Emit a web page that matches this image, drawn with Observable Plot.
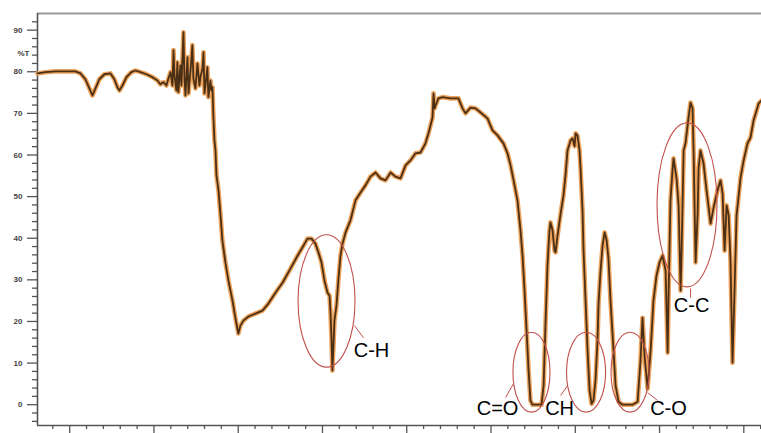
<!DOCTYPE html>
<html>
<head>
<meta charset="utf-8">
<script src="https://cdn.jsdelivr.net/npm/d3@7"></script>
<script src="https://cdn.jsdelivr.net/npm/@observablehq/plot@0.6"></script>
<style>
  html, body { margin: 0; padding: 0; background: #fff; overflow: hidden; }
</style>
</head>
<body>
<div id="chart"></div>
<script>
// Wavenumber (cm-1) and transmittance (%T)
const wavenumber = [
  4691,4644,4585,4525,4466,4436,4407,4383,4365,4347,4324,4294,4258,4235,4217,4205,4187,4163,4134,4110,
  4080,4045,4009,3979,3962,3944,3926,
  3914,3902,3890,3884,3878,3867,3861,3855,3843,3837,3825,3819,3813,3801,3795,3783,3772,3766,3754,3742,
  3730,3724,3712,3706,3700,3688,3683,3677,3665,3659,3653,3647,3641,3635,
  3629,3617,3605,3594,3576,3558,3534,3516,3505,3499,3487,3469,3439,3398,3356,3321,3279,3237,3190,3148,
  3113,3089,3065,3042,3024,3006,2988,2970,2958,2953,2947,2941,2935,2929,2917,2905,2893,2881,2863,2834,
  2804,2774,2745,2715,2685,2656,2626,2596,2567,2537,2507,2478,2448,2418,2389,2371,2359,2347,2341,2335,
  2329,2312,2288,2240,2193,2169,2151,2122,2092,2062,2021,1991,1961,1926,1902,1884,1866,1843,1825,1813,
  1801,1789,1777,1766,1754,1700,1688,1676,1665,1653,1647,1635,1623,1617,1605,1587,1570,1558,1546,1528,
  1516,1504,1498,1487,1475,1469,1457,1451,1439,1427,1415,1403,1392,1380,1368,1362,1350,1338,1326,1314,
  1303,1291,1273,1261,1243,1220,1160,1130,1113,1101,1089,1071,1053,1036,1018,1000,982,964,952,947,
  935,923,917,899,887,875,869,857,846,828,816,804,798,792,786,774,768,757,739,721,
  697,679,656,638,626,614,602,590,579,567,555,543,519,501,478,460,442,424,412,394
];
const transmittance = [
  79.6,79.9,80.1,80.1,80.1,79.6,78.2,76.0,74.3,76.0,78.2,79.4,79.6,78.2,76.3,75.5,76.7,78.7,79.9,80.3,
  79.9,79.4,78.7,77.9,77.0,77.5,76.7,
  78.4,79.9,76.7,85.2,79.1,75.5,82.3,75.1,81.5,76.7,89.5,78.4,74.3,83.5,74.8,80.3,86.4,78.4,76.0,82.0,
  76.7,78.7,80.8,84.7,74.8,79.1,81.1,73.9,77.9,75.5,76.3,69.0,63.5,61.1,
  55.1,51.5,45.5,39.5,34.2,29.8,25.0,20.7,18.3,17.1,19.0,20.2,21.2,21.9,22.6,24.3,26.9,29.3,32.7,35.8,
  38.2,39.9,39.9,38.7,36.6,34.2,29.8,26.9,26.2,22.6,16.6,8.2,14.2,20.2,23.8,30.3,35.8,38.7,41.4,44.3,
  49.1,51.0,52.7,54.8,55.8,54.4,53.9,55.8,54.8,54.4,57.5,58.7,60.4,60.6,62.8,65.2,67.1,69.0,74.8,71.2,
  71.9,73.6,73.9,73.6,73.6,71.2,70.0,71.4,71.2,70.2,68.8,65.9,64.7,62.8,60.4,57.5,53.9,49.1,41.9,35.8,
  27.4,17.8,8.2,1.0,0.0,0.0,4.6,20.2,33.4,41.9,43.8,41.9,37.0,36.6,40.7,45.9,50.3,55.1,61.1,63.5,
  64.0,62.1,65.2,64.7,61.1,57.0,46.7,37.0,25.0,13.0,3.4,0.2,1.0,5.8,15.4,24.3,32.2,38.2,41.4,39.5,
  35.1,25.0,13.0,4.6,0.7,0.0,0.0,0.7,10.6,20.9,11.8,3.8,13.0,25.0,31.0,34.2,35.8,32.2,12.5,25.0,
  49.1,56.3,59.2,54.4,47.9,27.4,37.0,61.1,62.8,69.0,72.6,71.2,61.1,47.4,34.2,45.9,57.0,61.1,58.0,51.5,
  43.5,47.4,51.5,53.9,50.8,37.0,47.9,45.5,34.6,10.1,27.4,45.5,54.6,58.7,62.8,64.2,68.3,70.7,72.4,73.1
];

// Axis ticks
const xMajorTicks = [4500, 4000, 3500, 3000, 2500, 2000, 1500, 1000, 500];
const xMinorTicks = d3.range(4600, 399, -100).filter(v => v % 500 !== 0);
const yMajorTicks = [0, 10, 20, 30, 40, 50, 60, 70, 80, 90];
const yMinorTicks = d3.range(-4, 93, 2).filter(v => v % 10 !== 0);

// Band annotations: ellipse centre / radii in data units, label position, leader line
const bandNames   = ["C-H", "C=O", "CH", "C-O", "C-C"];
const bandCenterW = [2973, 1757, 1433, 1172, 834];
const bandCenterT = [24.8, 7.7, 7.7, 7.7, 47.9];
const bandRadiusW = [169, 110, 116, 113, 178];
const bandRadiusT = [15.9, 9.6, 9.6, 9.6, 19.7];
const labelW      = [2709, 1961, 1593, 947, 810];
const labelT      = [13.0, -1.0, -1.0, -1.0, 23.8];
const leaderW1    = [2810, 1866, 1546, 1071, 816];
const leaderT1    = [19.0, 5.1, 4.6, 2.9, 27.9];
const leaderW2    = [2757, 1914, 1587, 1012, 816];
const leaderT2    = [16.1, 1.7, 2.2, 1.0, 25.7];

const spectrum = wavenumber.map((w, i) => ({w, t: transmittance[i]}));
const labels = bandNames.map((name, i) => ({name, w: labelW[i], t: labelT[i]}));
const leaders = bandNames.map((name, i) => ({w1: leaderW1[i], t1: leaderT1[i], w2: leaderW2[i], t2: leaderT2[i]}));

const axisColor = "#555";
const plot = Plot.plot({
  width: 761,
  height: 445,
  marginLeft: 37,
  marginRight: 0,
  marginTop: 13,
  marginBottom: 20,
  style: {fontFamily: "'Liberation Sans', Arial, sans-serif", background: "#fff", overflow: "visible"},
  x: {domain: [4691, 395], label: null},
  y: {domain: [-5, 94], label: null},
  marks: [
    Plot.ruleY([94], {stroke: "#9a9a9a", strokeWidth: 2}),
    Plot.axisY(yMinorTicks, {tickSize: 5, tickFormat: () => "", stroke: axisColor, strokeWidth: 1.3}),
    Plot.axisY(yMajorTicks, {tickSize: 10, tickPadding: 5, stroke: axisColor, strokeWidth: 1.3, fontSize: 8, fontWeight: "bold", fill: "#444", label: null}),
    Plot.axisX(xMinorTicks, {tickSize: 4, tickFormat: () => "", stroke: axisColor, strokeWidth: 1.3}),
    Plot.axisX(xMajorTicks, {tickSize: 8, tickPadding: 1, stroke: axisColor, strokeWidth: 1.3, fontSize: 9, fill: "#444", label: null}),
    Plot.ruleX([4691], {stroke: axisColor, strokeWidth: 1.6}),
    Plot.ruleY([-5], {stroke: axisColor, strokeWidth: 1.6}),
    Plot.text(["%T"], {frameAnchor: "top-left", dx: -20, dy: 37, fontSize: 8, fontWeight: "bold", fill: "#444"}),
    Plot.line(spectrum, {x: "w", y: "t", stroke: "#eda35c", strokeWidth: 4.6, curve: "linear"}),
    Plot.line(spectrum, {x: "w", y: "t", stroke: "#4a2f15", strokeWidth: 1.8, curve: "linear"}),
    Plot.link(leaders, {x1: "w1", y1: "t1", x2: "w2", y2: "t2", stroke: "#c0504d", strokeWidth: 1}),
    Plot.text(labels, {x: "w", y: "t", text: "name", fontSize: 20, fill: "#000", textAnchor: "middle"})
  ]
});

// Ellipses around the absorption bands, positioned through the plot's scales
const xs = plot.scale("x"), ys = plot.scale("y");
const g = d3.select(plot).append("g").attr("fill", "none").attr("stroke", "#c0504d").attr("stroke-width", 1.1);
bandNames.forEach((name, i) => {
  const cx = xs.apply(bandCenterW[i]), cy = ys.apply(bandCenterT[i]);
  const rx = Math.abs(xs.apply(bandCenterW[i] + bandRadiusW[i]) - cx);
  const ry = Math.abs(ys.apply(bandCenterT[i] + bandRadiusT[i]) - cy);
  g.append("ellipse").attr("cx", cx).attr("cy", cy).attr("rx", rx).attr("ry", ry);
});

document.getElementById("chart").appendChild(plot);
</script>
</body>
</html>
